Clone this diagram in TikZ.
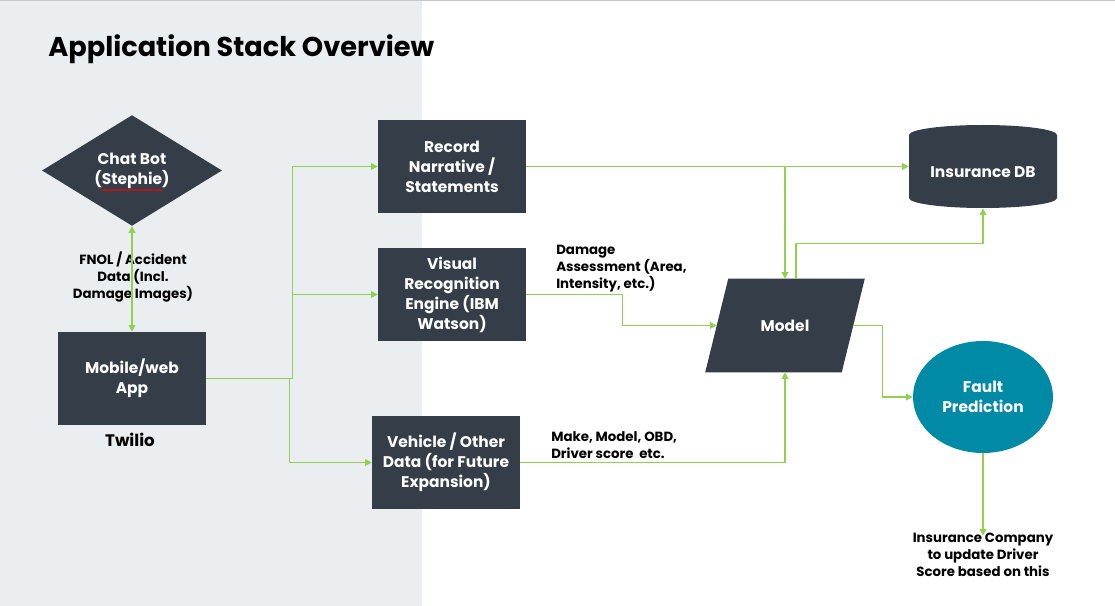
\documentclass[tikz,border=0pt]{standalone}
\usepackage{fontspec}
\setmainfont{Poppins}
\usetikzlibrary{arrows.meta,shapes.geometric,decorations.pathmorphing,calc}
\definecolor{slate}{RGB}{53,62,72}
\definecolor{gline}{RGB}{146,208,80}
\definecolor{teal}{RGB}{0,138,166}
\definecolor{panel}{RGB}{235,238,241}
\definecolor{topline}{RGB}{200,200,200}
\begin{document}
\begin{tikzpicture}[x=0.75pt,y=-0.75pt,
  boxfont/.style={font=\bfseries\fontsize{11.6}{15}\selectfont},
  box/.style={rectangle,fill=slate,text=white,align=center,inner sep=0pt,
    minimum width=111pt,minimum height=69.75pt,boxfont},
  lbl/.style={text=black,font=\bfseries\fontsize{10}{12.75}\selectfont,inner sep=0pt},
  gl/.style={draw=gline,line width=1.1pt},
  ga/.style={gl,-{Triangle[length=5pt,width=5pt]}},
  gb/.style={gl,{Triangle[length=5pt,width=5pt]}-{Triangle[length=5pt,width=5pt]}}]
\useasboundingbox (0,0) rectangle (1115,606);
\fill[white] (0,0) rectangle (1115,606);
\fill[panel] (0,0) rectangle (422,606);
\draw[topline,line width=0.75pt] (0,0.5) -- (1115,0.5);
\node[anchor=base west,inner sep=0pt,font=\bfseries\fontsize{20.4}{24}\selectfont] (title) at (48,57) {Application Stack Overview};
% nodes
\node[diamond,fill=slate,text=white,align=center,inner sep=0pt,minimum width=135pt,minimum height=77.25pt,boxfont] (chat) at (132,170.5) {Chat Bot\\(Stephie)};
\draw[red,line width=0.5pt,decorate,decoration={snake,amplitude=0.6pt,segment length=2.5pt}] (101,190) -- (163,190);
\node[box] (app) at (132,378.5) {Mobile/web\\App};
\node[font=\bfseries\fontsize{12.5}{15}\selectfont,inner sep=0pt] (twilio) at (130,440) {Twilio};
\node[box] (rec) at (452,166.5) {Record\\Narrative /\\Statements};
\node[box] (vis) at (452,294.5) {Visual\\Recognition\\Engine (IBM\\Watson)};
\node[box] (veh) at (446,462.5) {Vehicle / Other\\Data (for Future\\Expansion)};
\node[rectangle,inner sep=0pt,minimum width=102pt,minimum height=69.75pt] (model) at (785,325.5) {};
\fill[slate] ([xshift=8.625pt]model.north west) -- ([xshift=8.625pt]model.north east) -- ([xshift=-8.625pt]model.south east) -- ([xshift=-8.625pt]model.south west) -- cycle;
\node[text=white,inner sep=0pt,boxfont] (modeltext) at (model.center) {Model};
\node[rectangle,inner sep=0pt,minimum width=111pt,minimum height=62.25pt] (db) at (983,166.5) {};
\fill[slate] (909,135) arc[start angle=180,end angle=0,x radius=55.5pt,y radius=7.5pt] -- (1057,198) arc[start angle=0,end angle=-180,x radius=55.5pt,y radius=7.5pt] -- cycle;
\node[text=white,inner sep=0pt,boxfont] (dbt) at (983,172) {Insurance DB};
\node[ellipse,fill=teal,text=white,align=center,inner sep=0pt,minimum width=105pt,minimum height=84pt,boxfont] (fault) at (983,397) {Fault\\Prediction};
\node[lbl,align=center,anchor=north] (note) at (983,533) {Insurance Company\\to update Driver\\Score based on this};
\node[lbl,align=center] (fnol) at (133,277) {FNOL / Accident\\Data (Incl.\\Damage Images)};
\node[lbl,align=left,anchor=north west] (dmg) at (556,245) {Damage\\Assessment (Area,\\Intensity, etc.)};
\node[lbl,align=left,anchor=north west] (mk) at (551,431) {Make, Model, OBD,\\Driver score\ \ etc.};
% connectors
\draw[gb] (chat.south) -- (app.north);
\draw[ga] (app.east) -- ++(86,0) |- (rec.west);
\draw[ga] (app.east) -- ++(86,0) |- (vis.west);
\draw[ga] (app.east) -- ++(83,0) |- (veh.west);
\draw[ga] (rec.east) -- (rec.east -| db.west);
\draw[ga] (rec.east -| model.north) -- (model.north);
\draw[ga] (vis.east) -- ++(96,0) |- (model.west);
\draw[ga] (veh.east) -| (model.south);
\draw[ga] ([xshift=8.25pt]model.north) -- ++(0,-35) -| (db.south);
\draw[ga] (model.east) -- ++(29,0) |- (fault.west);
\draw[ga] (fault.south) -- ([yshift=-2pt]note.north);
\end{tikzpicture}
\end{document}
